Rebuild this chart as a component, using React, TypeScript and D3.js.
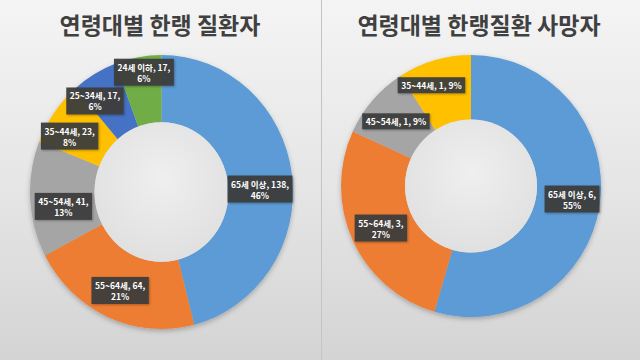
import React from 'react';
import * as d3 from 'd3';

// ---- data ----
const leftCategories = ['65세 이상', '55~64세', '45~54세', '35~44세', '25~34세', '24세 이하'];
const leftValues = [138, 64, 41, 23, 17, 17];
const leftPercents = ['46%', '21%', '13%', '8%', '6%', '6%'];

const rightCategories = ['65세 이상', '55~64세', '45~54세', '35~44세'];
const rightValues = [6, 3, 1, 1];
const rightPercents = ['55%', '27%', '9%', '9%'];

const titles = ['연령대별 한랭 질환자', '연령대별 한랭질환 사망자'];

// ---- style ----
const colors = ['#5B9BD5', '#ED7D31', '#A5A5A5', '#FFC000', '#4472C4', '#70AD47'];
const FONT = "'Noto Sans CJK KR', 'Noto Sans', sans-serif";
const LABEL_FONT_SIZE = 8.5;

const leftLabelOffsets: [number, number][] = [[0, 10], [-1, 4], [1, 9], [-11, 4], [-16, -2], [0, -18]];
const rightLabelOffsets: [number, number][] = [[4, -1], [-1, 1], [-1, 0], [-12, -6]];
const leftWrap = [true, true, true, true, true, true];
const rightWrap = [true, true, false, false];

let ctx: CanvasRenderingContext2D | null = null;
function measure(text: string): number {
  if (!ctx) {
    const c = document.createElement('canvas');
    ctx = c.getContext('2d');
  }
  if (!ctx) return text.length * LABEL_FONT_SIZE * 0.6;
  ctx.font = `bold ${LABEL_FONT_SIZE}px ${FONT}`;
  return ctx.measureText(text).width;
}

type PanelProps = {
  cx: number; cy: number; rx: number; ry: number; ri: number;
  categories: string[]; values: number[]; percents: string[];
  offsets: [number, number][]; wrap: boolean[];
};

function Donut(p: PanelProps) {
  const pie = d3.pie<number>().sort(null).value((d) => d);
  const arcs = pie(p.values);
  const arcGen = d3.arc<d3.PieArcDatum<number>>().innerRadius(p.ri).outerRadius(p.rx);
  const sy = p.ry / p.rx;
  const lineH = 11;
  return (
    <g>
      <g transform={`translate(${p.cx},${p.cy}) scale(1,${sy})`} filter="url(#shadow)">
        {arcs.map((a, i) => (
          <path key={i} d={arcGen(a) || ''} fill={colors[i]} />
        ))}
      </g>
      <ellipse cx={p.cx} cy={p.cy} rx={p.ri} ry={p.ri * sy} fill="url(#hole)" />
      {arcs.map((a, i) => {
        const [mx, my] = arcGen.centroid(a);
        const x = p.cx + mx + p.offsets[i][0];
        const y = p.cy + my * sy + p.offsets[i][1];
        const lines = p.wrap[i]
          ? [`${p.categories[i]}, ${p.values[i]},`, p.percents[i]]
          : [`${p.categories[i]}, ${p.values[i]}, ${p.percents[i]}`];
        const w = Math.max(...lines.map(measure)) + 7;
        const h = lines.length * lineH + 5;
        return (
          <g key={'l' + i}>
            <rect x={x - w / 2} y={y - h / 2} width={w} height={h} fill="#3d3d3d" opacity={0.95} filter="url(#lshadow)" />
            {lines.map((t, j) => (
              <text
                key={j}
                x={x}
                y={y - h / 2 + 2.5 + lineH * j + lineH / 2}
                textAnchor="middle"
                dominantBaseline="central"
                fontFamily={FONT}
                fontWeight="bold"
                fontSize={LABEL_FONT_SIZE}
                fill="#ffffff"
              >
                {t}
              </text>
            ))}
          </g>
        );
      })}
    </g>
  );
}

export default function App() {
  return (
    <svg width={640} height={360} style={{ position: 'absolute', left: 0, top: 0 }}>
      <defs>
        <linearGradient id="bg" x1="0" y1="0" x2="0" y2="1">
          <stop offset="0" stopColor="#f4f4f4" />
          <stop offset="0.5" stopColor="#e6e6e6" />
          <stop offset="1" stopColor="#d4d4d4" />
        </linearGradient>
        <radialGradient id="hole" cx="0.5" cy="0.4" r="0.6">
          <stop offset="0" stopColor="#efefef" />
          <stop offset="1" stopColor="#e0e0e0" />
        </radialGradient>
        <filter id="shadow" x="-20%" y="-20%" width="140%" height="140%">
          <feDropShadow dx="0" dy="2" stdDeviation="2.5" floodColor="#000" floodOpacity="0.25" />
        </filter>
        <filter id="lshadow" x="-20%" y="-30%" width="140%" height="160%">
          <feDropShadow dx="1" dy="1" stdDeviation="1" floodColor="#000" floodOpacity="0.3" />
        </filter>
      </defs>
      <rect x={0} y={0} width={321} height={360} fill="url(#bg)" />
      <rect x={322} y={0} width={318} height={360} fill="url(#bg)" />
      <line x1={321.5} y1={0} x2={321.5} y2={360} stroke="#c4c4c4" strokeWidth={1} />
      <text x={160} y={34} textAnchor="middle" fontFamily={FONT} fontWeight="bold" fontSize={23} fill="#404040">
        {titles[0]}
      </text>
      <text x={479} y={34} textAnchor="middle" fontFamily={FONT} fontWeight="bold" fontSize={23} fill="#404040">
        {titles[1]}
      </text>
      <Donut
        cx={161.5} cy={192} rx={131.5} ry={137} ri={67}
        categories={leftCategories} values={leftValues} percents={leftPercents}
        offsets={leftLabelOffsets} wrap={leftWrap}
      />
      <Donut
        cx={471} cy={186} rx={130} ry={131} ri={66}
        categories={rightCategories} values={rightValues} percents={rightPercents}
        offsets={rightLabelOffsets} wrap={rightWrap}
      />
    </svg>
  );
}
